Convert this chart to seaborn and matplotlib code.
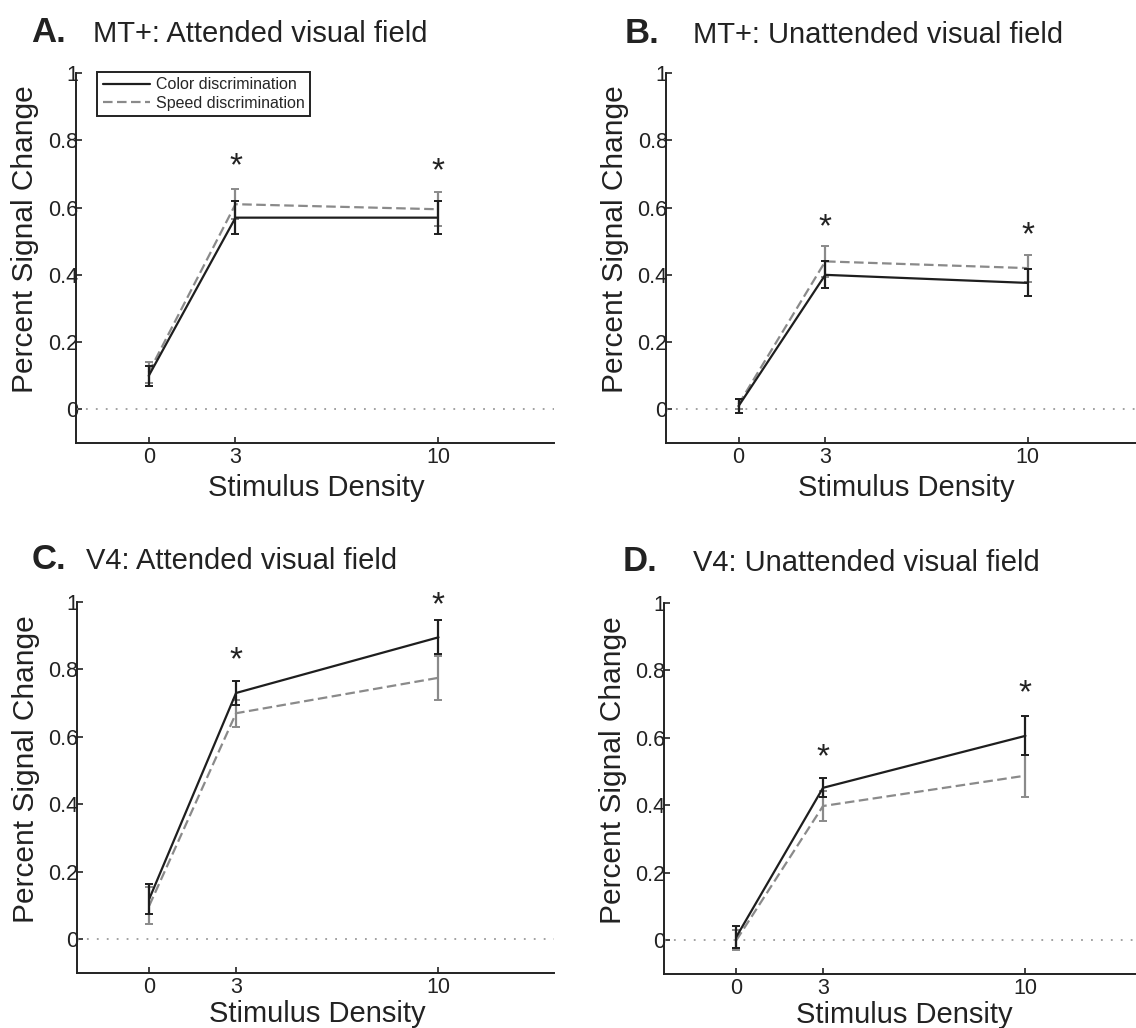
import pandas as pd
import numpy as np
import matplotlib.pyplot as plt
import seaborn as sns
from matplotlib.lines import Line2D

# stimulus densities and the two task conditions
density = [0, 3, 10]
tasks = ["Color discrimination", "Speed discrimination"]

# panel A: MT+ attended
a_color = [0.10, 0.57, 0.57]
a_color_err = [0.03, 0.05, 0.05]
a_speed = [0.11, 0.61, 0.595]
a_speed_err = [0.03, 0.045, 0.05]
a_stars = [0.72, 0.705]

# panel B: MT+ unattended
b_color = [0.01, 0.40, 0.376]
b_color_err = [0.02, 0.04, 0.04]
b_speed = [0.015, 0.44, 0.42]
b_speed_err = [0.015, 0.045, 0.04]
b_stars = [0.54, 0.515]

# panel C: V4 attended
c_color = [0.12, 0.73, 0.895]
c_color_err = [0.045, 0.035, 0.05]
c_speed = [0.10, 0.67, 0.775]
c_speed_err = [0.055, 0.04, 0.065]
c_stars = [0.825, 0.99]

# panel D: V4 unattended
d_color = [0.01, 0.452, 0.606]
d_color_err = [0.033, 0.028, 0.058]
d_speed = [0.0, 0.398, 0.488]
d_speed_err = [0.03, 0.045, 0.062]
d_stars = [0.54, 0.73]

letters = ["A.", "B.", "C.", "D."]
titles = ["MT+: Attended visual field", "MT+: Unattended visual field",
          "V4: Attended visual field", "V4: Unattended visual field"]
yticks = [0, 0.2, 0.4, 0.6, 0.8, 1]
ytick_labels = ["0", "0.2", "0.4", "0.6", "0.8", "1"]

sns.set_style("ticks")
plt.rcParams['font.family'] = ['Liberation Sans', 'DejaVu Sans']

black = "#1e1e1e"
gray = "#8a8a8a"
palette = {tasks[0]: black, tasks[1]: gray}
dash_map = {tasks[0]: "", tasks[1]: (4.3, 2)}

fig = plt.figure(figsize=(11.36, 10.28), dpi=100)

# axes rectangles (figure fractions)
rects = [[0.0673, 0.569, 0.42, 0.360],
         [0.5865, 0.569, 0.42, 0.360],
         [0.0678, 0.0535, 0.42, 0.361],
         [0.5845, 0.0525, 0.42, 0.361]]
# label / title anchors: (letter x, title x, baseline y)
heads = [(0.0273, 0.0819, 0.959), (0.550, 0.610, 0.958),
         (0.028, 0.0757, 0.4465), (0.548, 0.610, 0.4446)]
xlabel_y = [-0.122, -0.122, -0.111, -0.111]

panels = [(a_color, a_color_err, a_speed, a_speed_err, a_stars),
          (b_color, b_color_err, b_speed, b_speed_err, b_stars),
          (c_color, c_color_err, c_speed, c_speed_err, c_stars),
          (d_color, d_color_err, d_speed, d_speed_err, d_stars)]

for i, (col, col_err, spd, spd_err, stars) in enumerate(panels):
    ax = fig.add_axes(rects[i])
    df = pd.DataFrame({
        "density": density * 2,
        "signal": col + spd,
        "task": [tasks[0]] * 3 + [tasks[1]] * 3,
    })
    ax.axhline(0, color="#9a9a9a", lw=1.3, ls=(0, (1, 4.5)), zorder=1)
    sns.lineplot(data=df, x="density", y="signal", hue="task", style="task",
                 hue_order=tasks[::-1], style_order=tasks[::-1],
                 palette=palette, dashes=dash_map, lw=1.6, legend=False,
                 ax=ax, zorder=3)
    ax.errorbar(density, spd, yerr=spd_err, fmt="none", ecolor=gray,
                elinewidth=1.6, capsize=3, capthick=1.4, zorder=2)
    ax.errorbar(density, col, yerr=col_err, fmt="none", ecolor=black,
                elinewidth=1.6, capsize=3, capthick=1.4, zorder=4)
    for x, y in zip(density[1:], stars):
        ax.text(x, y, "*", ha="center", va="center", fontsize=24,
                color="#222222")

    ax.set_xlim(-2.5, 14)
    ax.set_ylim(-0.1, 1.0)
    ax.set_xticks(density)
    ax.set_xticklabels([str(d) for d in density])
    ax.set_yticks(yticks)
    ax.set_yticklabels(ytick_labels)
    ax.tick_params(direction="in", length=4, width=1.2, labelsize=15.5,
                   colors="#222222")
    ax.tick_params(axis="y", pad=-1)
    ax.tick_params(axis="x", pad=3)
    sns.despine(ax=ax)
    for s in ["left", "bottom"]:
        ax.spines[s].set_linewidth(1.4)
        ax.spines[s].set_color("#222222")
    ax.set_ylabel("Percent Signal Change", fontsize=21.5, va="center",
                  color="#222222")
    ax.yaxis.set_label_coords(-0.107, 0.55)
    ax.set_xlabel("Stimulus Density", fontsize=21, va="center",
                  color="#222222")
    ax.xaxis.set_label_coords(0.503, xlabel_y[i])

    if i == 0:
        handles = [Line2D([], [], color=black, lw=1.6),
                   Line2D([], [], color=gray, lw=1.6, ls=(0, (4.3, 2)))]
        leg = ax.legend(handles, tasks, loc="upper left",
                        bbox_to_anchor=(0.043, 1.003), borderaxespad=0,
                        fontsize=11.5, handlelength=3.0, handletextpad=0.35,
                        labelspacing=0.2, borderpad=0.35, fancybox=False,
                        framealpha=1, edgecolor="#222222")
        leg.get_frame().set_linewidth(1.4)

    lx, tx, by = heads[i]
    fig.text(lx, by, letters[i], fontsize=25, fontweight="bold",
             va="baseline", color="#222222")
    fig.text(tx, by, titles[i], fontsize=21, va="baseline", color="#222222")

fig.savefig("out.png", dpi=100)
